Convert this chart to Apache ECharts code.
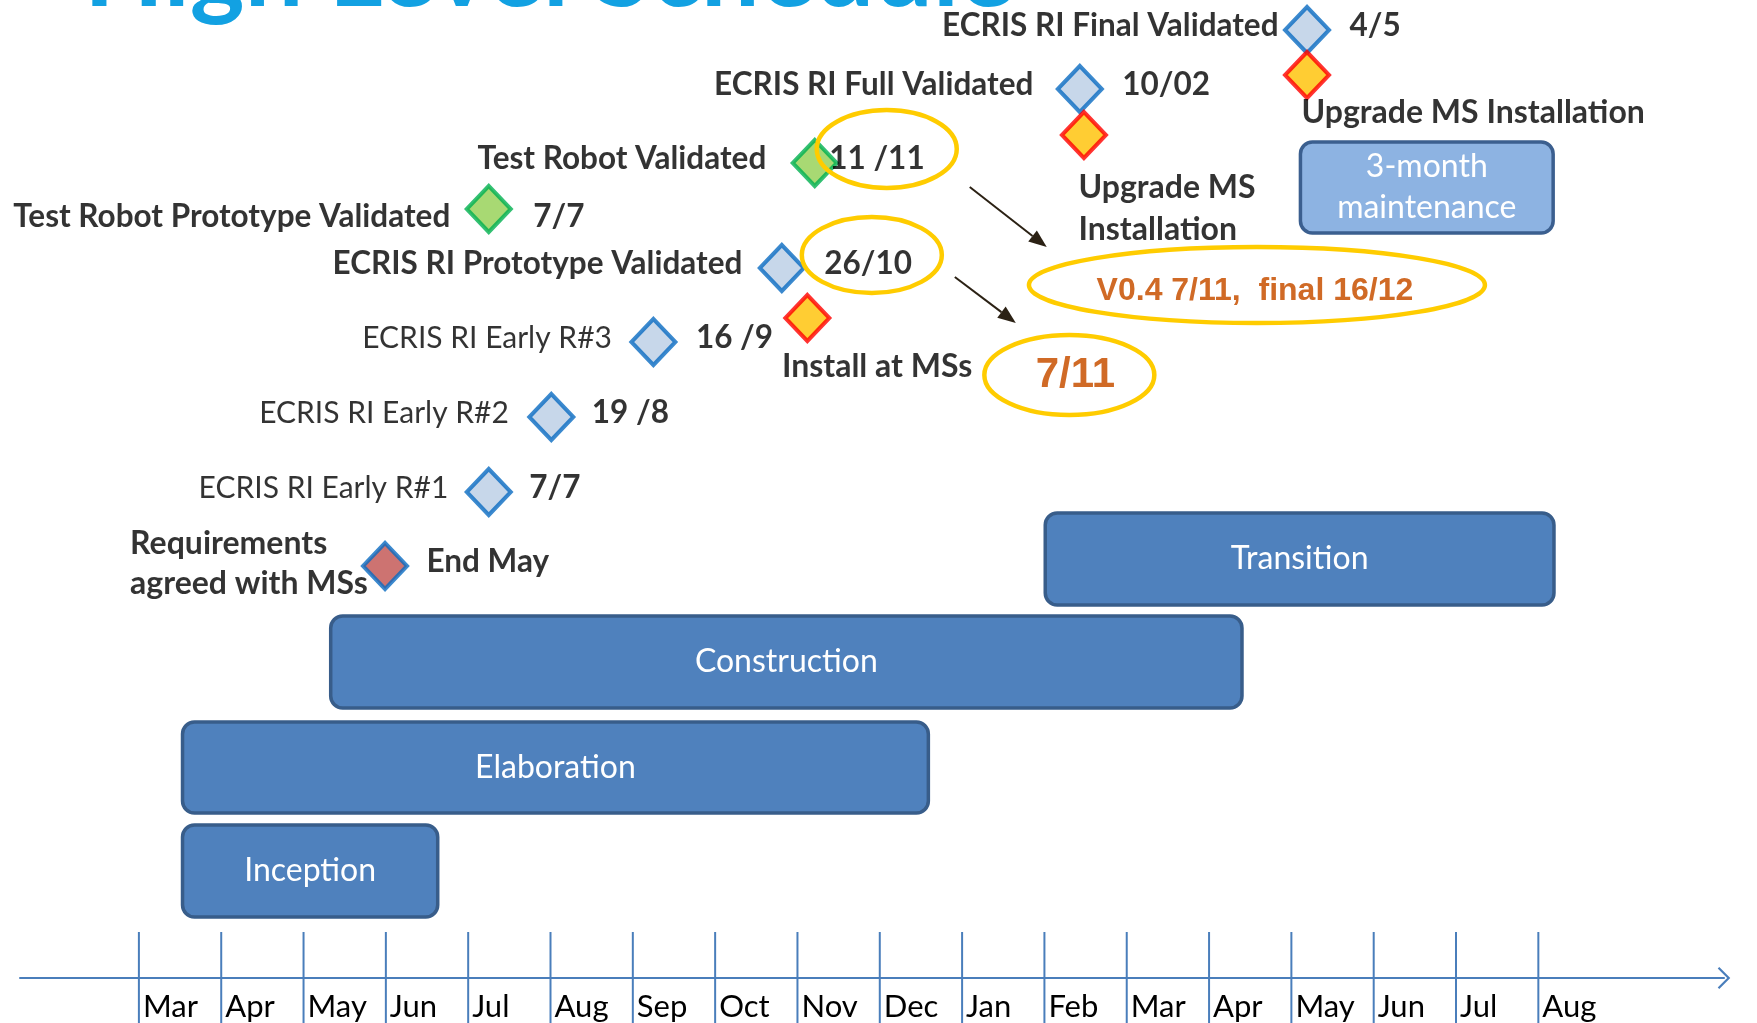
<!DOCTYPE html>
<html>
<head>
<meta charset="utf-8">
<script src="https://cdn.jsdelivr.net/npm/echarts@6/dist/echarts.min.js"></script>
<style>
html,body{margin:0;padding:0;background:#fff}
#main{width:1757px;height:1023px}
</style>
</head>
<body>
<div id="main"></div>
<script>
// months on the time line (first tick = start of the first March)
var months = ['Mar','Apr','May','Jun','Jul','Aug','Sep','Oct','Nov','Dec','Jan','Feb','Mar','Apr','May','Jun','Jul','Aug'];

// phases: start / end in months from the first tick
var phaseNames = ['Inception','Elaboration','Construction','Transition','3-month\nmaintenance'];
var phaseStart = [0.53, 0.53, 2.33, 11.01, 14.11];
var phaseEnd = [3.63, 9.59, 13.40, 17.19, 17.18];

// milestones
var msNames = ['Requirements\nagreed with MSs','ECRIS RI Early R#1','ECRIS RI Early R#2','ECRIS RI Early R#3','ECRIS RI Prototype Validated','Test Robot Prototype Validated','Test Robot Validated','ECRIS RI Full Validated','ECRIS RI Final Validated'];
var msDates = ['End May','7/7','19 /8','16 /9','26/10','7/7','11 /11','10/02','4/5'];
var msMonth = [2.99, 4.25, 5.01, 6.25, 7.81, 4.25, 8.21, 11.43, 14.19];
var msKind = ['req','ecris','ecris','ecris','ecris','robot','robot','ecris','ecris'];

// installations at the member states
var instNames = ['Install at MSs','Upgrade MS\nInstallation','Upgrade MS Installation'];
var instDates = ['7/11','V0.4 7/11,  final 16/12',''];
var instMonth = [8.12, 11.48, 14.19];

// ---- layout (pixel rows, gaps) ----
var X0 = 138.9, STEP = 82.32;
var phaseRows = [[825,917],[722,813],[616,708],[513,605],[142,233]];
var msRows = [566,492,417,342,268,209,163,89,30];
var instRows = [318,135,75];
var nameGap = [0, 16.5, 18.5, 17.5, 15.5, 14.5, 24.5, 22.5, 4.5];
var dateGap = [19.5, 18.5, 18.5, 20.5, 20.5, 22.5, -7.5, 20.5, 20.5];
var textShift = [0, -4, -4, -4, -4, 8, -4, -4, -4];
var instLabelPos = [[-1.5, 74], [18.5, 99], [18.5, 63]];
var kindStyle = {
	ecris: {color: '#b9cde5', borderColor: '#0a6cc2'},
	robot: {color: '#92d050', borderColor: '#00b050'},
	req: {color: '#c0504d', borderColor: '#0a6cc2'}
};
// yellow rings round some dates, anchored on a milestone
var callouts = [
	{src: 'ms', idx: 6, dx: 72, dy: -14, rx: 70, ry: 39, arrow: [83, 38, 160, 98]},
	{src: 'ms', idx: 4, dx: 90, dy: -13, rx: 70, ry: 38, arrow: [83, 22, 144, 68]},
	{src: 'inst', idx: 1, dx: 173, dy: 150, rx: 228, ry: 38, text: 1, tx: -2, ty: 6, font: 'bold 32px "Liberation Sans"'},
	{src: 'inst', idx: 0, dx: 262, dy: 57, rx: 85, ry: 40, text: 0, tx: 6, ty: 0, font: 'bold 42px "Liberation Sans"'}
];

var FONT = 'Lato';
var chart = echarts.init(document.getElementById('main'));

var option = {
	animation: false,
	grid: [
		{left: 0, right: 0, top: 0, bottom: 0},
		{left: 20, right: 33, top: 976, height: 2}
	],
	xAxis: [
		{type: 'value', min: -X0 / STEP, max: (1757 - X0) / STEP, show: false},
		{type: 'value', gridIndex: 1, min: 0, max: 1,
			axisLine: {show: true, onZero: false, symbol: ['none', 'path://M0,10 L10,0 L20,10 L18.6,11.4 L10,2.8 L1.4,11.4 Z'], symbolSize: [22, 14], lineStyle: {color: '#4a7ebb', width: 2}},
			axisTick: {show: false}, axisLabel: {show: false}, splitLine: {show: false}}
	],
	yAxis: [
		{type: 'value', min: 0, max: 1023, inverse: true, show: false},
		{type: 'value', gridIndex: 1, show: false}
	],
	graphic: [{
		type: 'text', x: 84, y: 24,
		style: {text: 'High Level Schedule', font: 'bold 104px ' + FONT, fill: '#12a1e2', verticalAlign: 'bottom'}
	}],
	series: [
		{
			type: 'custom', name: 'timeline', silent: true, clip: false, z: 1,
			data: months.map(function(m, i) { return [i]; }),
			renderItem: function(params, api) {
				var a = api.coord([api.value(0), 932]);
				var b = api.coord([api.value(0), 1023]);
				return {type: 'group', children: [
					{type: 'line', shape: {x1: a[0], y1: a[1], x2: b[0], y2: b[1]}, style: {stroke: '#4a7ebb', lineWidth: 2}},
					{type: 'text', style: {text: months[params.dataIndex], x: a[0] + 4, y: 1007, verticalAlign: 'middle', font: '31px ' + FONT, fill: '#000'}}
				]};
			}
		},
		{
			type: 'custom', name: 'phases', silent: true, clip: false, z: 2,
			data: phaseNames.map(function(n, i) { return [phaseStart[i], phaseEnd[i]]; }),
			renderItem: function(params, api) {
				var i = params.dataIndex;
				var a = api.coord([api.value(0), phaseRows[i][0]]);
				var b = api.coord([api.value(1), phaseRows[i][1]]);
				var light = i === 4;
				return {type: 'group', children: [
					{type: 'rect', shape: {x: a[0], y: a[1], width: b[0] - a[0], height: b[1] - a[1], r: 12},
						style: {fill: light ? '#8db3e2' : '#4f81bd', stroke: light ? '#3b5f8f' : '#385d8a', lineWidth: 3.5}},
					{type: 'text', style: {text: phaseNames[i], x: (a[0] + b[0]) / 2, y: (a[1] + b[1]) / 2, align: 'center', verticalAlign: 'middle', font: '32px ' + FONT, fill: '#fff', lineHeight: 41}}
				]};
			}
		},
		{
			type: 'scatter', name: 'milestones', symbol: 'diamond', symbolSize: [44, 46], z: 3,
			data: msNames.map(function(n, i) {
				var item = {
					name: n, value: [msMonth[i], msRows[i]],
					itemStyle: {color: kindStyle[msKind[i]].color, borderColor: kindStyle[msKind[i]].borderColor, borderWidth: 4},
					label: {position: 'left', distance: nameGap[i], offset: [0, textShift[i]],
						fontWeight: (i >= 1 && i <= 3) ? 'normal' : 'bold', fontSize: (i >= 1 && i <= 3) ? 30 : 31.5}
				};
				if (i === 0) item.label = {position: [-231, 23], align: 'left', verticalAlign: 'middle', lineHeight: 40, fontWeight: 'bold', fontSize: 32};
				return item;
			}),
			label: {show: true, formatter: '{b}', fontFamily: FONT, fontSize: 31.5, color: '#000'}
		},
		{
			type: 'scatter', name: 'dates', symbol: 'diamond', symbolSize: [44, 46], z: 3, silent: true,
			itemStyle: {color: 'rgba(0,0,0,0)'},
			data: msDates.map(function(d, i) {
				return {name: d, value: [msMonth[i], msRows[i]], label: {distance: dateGap[i], offset: [0, textShift[i] || -4]}};
			}),
			label: {show: true, position: 'right', formatter: '{b}', fontFamily: FONT, fontSize: 31.5, fontWeight: 'bold', color: '#000'}
		},
		{
			type: 'scatter', name: 'installations', symbol: 'diamond', symbolSize: [44, 46], z: 3,
			data: instNames.map(function(n, i) {
				return {name: n, value: [instMonth[i], instRows[i]], label: {position: instLabelPos[i]}};
			}),
			itemStyle: {color: '#ffc000', borderColor: '#ff0000', borderWidth: 4},
			label: {show: true, formatter: '{b}', align: 'left', verticalAlign: 'middle', lineHeight: 42, fontFamily: FONT, fontSize: 32, fontWeight: 'bold', color: '#000'}
		},
		{
			type: 'custom', name: 'callouts', silent: true, clip: false, z: 4,
			data: callouts.map(function(c) {
				return c.src === 'ms' ? [msMonth[c.idx], msRows[c.idx]] : [instMonth[c.idx], instRows[c.idx]];
			}),
			renderItem: function(params, api) {
				var c = callouts[params.dataIndex];
				var p = api.coord([api.value(0), api.value(1)]);
				var cx = p[0] + c.dx, cy = p[1] + c.dy;
				var kids = [{type: 'ellipse', shape: {cx: cx, cy: cy, rx: c.rx, ry: c.ry}, style: {fill: 'none', stroke: '#ffcc00', lineWidth: 4.5}}];
				if (c.text != null) {
					kids.push({type: 'text', style: {text: instDates[c.text], x: cx + c.tx, y: cy + c.ty, align: 'center', verticalAlign: 'middle', font: c.font, fill: '#d06a26'}});
				}
				if (c.arrow) {
					var x1 = cx + c.arrow[0], y1 = cy + c.arrow[1], x2 = cx + c.arrow[2], y2 = cy + c.arrow[3];
					var len = Math.sqrt((x2 - x1) * (x2 - x1) + (y2 - y1) * (y2 - y1));
					var ux = (x2 - x1) / len, uy = (y2 - y1) / len;
					var bx = x2 - ux * 18, by = y2 - uy * 18;
					kids.push({type: 'line', shape: {x1: x1, y1: y1, x2: bx, y2: by}, style: {stroke: '#2b2114', lineWidth: 2}});
					kids.push({type: 'polygon', shape: {points: [[x2, y2], [bx - uy * 7, by + ux * 7], [bx + uy * 7, by - ux * 7]]}, style: {fill: '#2b2114'}});
				}
				return {type: 'group', children: kids};
			}
		}
	]
};

chart.setOption(option);
window.addEventListener('resize', function() {
	chart.resize();
});
</script>
</body>
</html>
